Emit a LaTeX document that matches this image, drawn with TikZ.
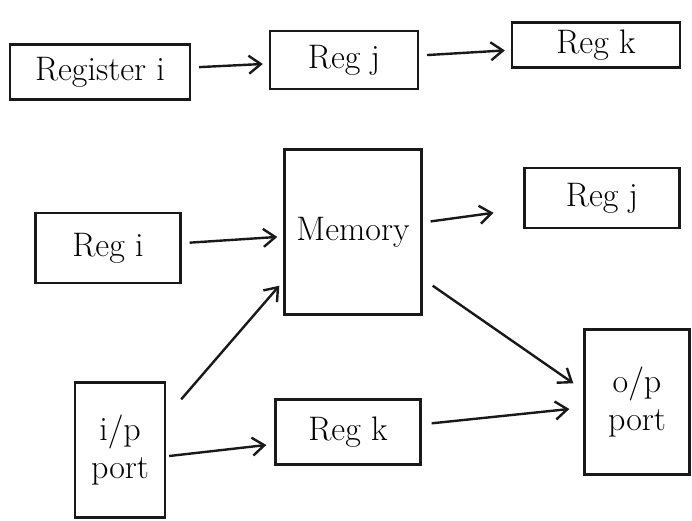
\documentclass[tikz,border=0pt]{standalone}
\usetikzlibrary{arrows.meta,calc}
\begin{document}
\begin{tikzpicture}[x=1pt,y=-1pt,
  ink/.style={line width=2.4pt, draw=black!90},
  regbox/.style={ink, rectangle, inner sep=2pt, align=center,
    font=\fontsize{34}{38}\selectfont},
  arr/.style={ink, -{Straight Barb[length=12pt,width=18pt,line width=2.4pt]},
    shorten <=8pt, shorten >=6pt}]
  \useasboundingbox[fill=white] (0,0) rectangle (692,521);

  % top row: register to register transfer
  \node[regbox, minimum width=180, minimum height=55] (reg1) at (100,72) {Register i};
  \node[regbox, minimum width=148, minimum height=58] (regj1) at (344,60) {Reg j};
  \node[regbox, minimum width=168, minimum height=45] (regk1) at (596,45) {Reg k};

  % memory block with its neighbours
  \node[regbox, minimum width=137, minimum height=165] (mem) at (353,232) {Memory};
  \node[regbox, minimum width=145, minimum height=70] (regi2) at (108,248) {Reg i};
  \node[regbox, minimum width=155, minimum height=60] (regj2) at (602,198) {Reg j};

  % ports and the lower register
  \node[regbox, minimum width=90, minimum height=135] (inport) at (120,450) {i/p\\port};
  \node[regbox, minimum width=105, minimum height=145] (outport) at (637,402) {o/p\\port};
  \node[regbox, minimum width=145, minimum height=65] (regk2) at (348,432) {Reg k};

  % transfers
  \draw[arr] (reg1) -- (regj1);
  \draw[arr] (regj1) -- (regk1);
  \draw[arr] (regi2) -- (mem);
  \draw[arr, shorten >=30pt] (mem) -- (regj2);
  \draw[arr, shorten <=0pt, shorten >=0pt]
    ($(inport.north east)+(15,18)$) -- ($(mem.south west)+(-4,-30)$);
  \draw[arr, shorten <=0pt, shorten >=0pt]
    ($(inport.east)+(3,6)$) -- ($(regk2.west)+(-8,13)$);
  \draw[arr, shorten <=10pt, shorten >=14pt] (regk2) -- (outport);
  \draw[arr, shorten <=0pt, shorten >=0pt]
    ($(mem.south east)+(10,-30)$) -- ($(outport.north west)+(-10,55)$);
\end{tikzpicture}
\end{document}
